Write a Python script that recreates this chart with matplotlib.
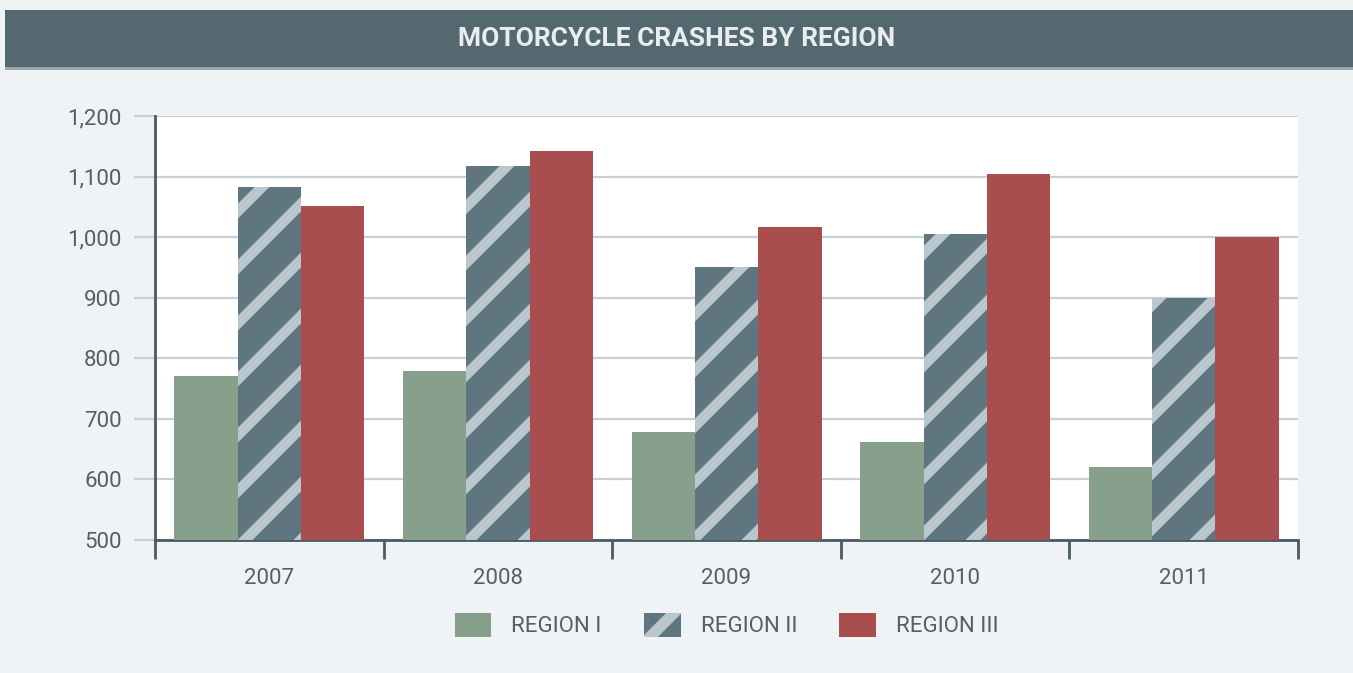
import numpy as np
import matplotlib
matplotlib.use("Agg")
import matplotlib.pyplot as plt
from matplotlib.collections import LineCollection
from matplotlib.patches import Rectangle, Patch
from matplotlib.transforms import IdentityTransform, Bbox
from matplotlib.ticker import FuncFormatter

# data
years = ["2007", "2008", "2009", "2010", "2011"]
region_1 = [770, 779, 678, 662, 620]
region_2 = [1082, 1117, 950, 1005, 899]
region_3 = [1051, 1142, 1016, 1104, 1000]
series_names = ["REGION I", "REGION II", "REGION III"]

green = "#87a08c"
slate = "#5f7580"
stripe = "#b9c6cc"
red = "#a94e4f"
banner = "#546870"
bg = "#eff3f6"
txt = "#555f66"

plt.rcParams["font.family"] = ["Roboto", "DejaVu Sans"]

fig = plt.figure(figsize=(13.53, 6.73), dpi=100, facecolor=bg)

# title banner
fig.patches.append(Rectangle((0.0037, 0.899), 0.9963, 0.086, transform=fig.transFigure,
                             facecolor=banner, edgecolor="none", zorder=0))
fig.patches.append(Rectangle((0.0037, 0.896), 0.9963, 0.004, transform=fig.transFigure,
                             facecolor="#9aa8ae", edgecolor="none", zorder=0))
fig.text(0.5, 0.942, "MOTORCYCLE CRASHES BY REGION", ha="center", va="center",
         color="#e9edef", fontsize=19, fontweight="bold")

ax = fig.add_axes([0.1146, 0.1976, 0.8448, 0.630])
ax.set_facecolor("white")

x = np.arange(len(years))
w = 0.277
b1 = ax.bar(x - w, region_1, w, color=green, zorder=3)
b2 = ax.bar(x, region_2, w, color=slate, zorder=3)
b3 = ax.bar(x + w, region_3, w, color=red, zorder=3)

ax.set_ylim(500, 1200)
ax.set_xlim(-0.5, len(years) - 0.5)
ax.set_yticks(np.arange(500, 1201, 100))
ax.yaxis.set_major_formatter(FuncFormatter(lambda v, p: f"{int(v):,}"))
ax.grid(axis="y", color="#c9d0d4", linewidth=1.6, zorder=0)

ax.set_xticks(np.arange(-0.5, len(years), 1.0))
ax.set_xticklabels([])
ax.set_xticks(x, minor=True)
ax.set_xticklabels(years, minor=True)
ax.tick_params(axis="x", which="major", length=14, width=2, color="#4a5a63", direction="out")
ax.tick_params(axis="x", which="minor", length=0, pad=20, labelsize=16, labelcolor=txt)
ax.tick_params(axis="y", length=15, width=1.6, color="#c9d0d4", pad=9,
               labelsize=16, labelcolor=txt)

for s in ["top", "right"]:
    ax.spines[s].set_visible(False)
for s in ["left", "bottom"]:
    ax.spines[s].set_color("#4a5a63")
    ax.spines[s].set_linewidth(2)

leg = ax.legend(handles=[Patch(facecolor=green, label=series_names[0]),
                         Patch(facecolor=slate, label=series_names[1]),
                         Patch(facecolor=red, label=series_names[2])],
                loc="upper center", bbox_to_anchor=(0.5, -0.125), ncol=3, frameon=False,
                fontsize=16, handlelength=1.65, handleheight=1.25, handletextpad=0.9,
                columnspacing=1.9, labelcolor=txt)

fig.savefig("out.png", dpi=100, facecolor=bg)  # draw once to fix pixel positions


# diagonal light stripes, drawn in pixel space and clipped to a patch
def add_stripes(clip_patch, parent, limit=None, period=56, lw=7.6, centred=False):
    bb = clip_patch.get_window_extent()
    if limit is not None:
        bb = Bbox.intersection(bb, limit)
    c0 = 0.0
    if centred:
        c0 = (bb.y0 + bb.y1) / 2 - (bb.x0 + bb.x1) / 2
    segs = []
    for k in range(-40, 41):
        c = c0 + k * period
        segs.append([(bb.x0 - 100, bb.x0 - 100 + c), (bb.x1 + 100, bb.x1 + 100 + c)])
    lc = LineCollection(segs, colors=stripe, linewidths=lw, transform=IdentityTransform(),
                        zorder=clip_patch.get_zorder() + 0.5)
    parent.add_artist(lc)
    lc.set_clip_path(None)
    lc.set_clip_box(bb)
    lc.set_clip_on(True)


for bar in b2:
    add_stripes(bar, ax, limit=ax.bbox)
for h in leg.legend_handles:
    h.set_zorder(5)
add_stripes(leg.legend_handles[1], fig, lw=8, centred=True)

fig.savefig("out.png", dpi=100, facecolor=bg)
